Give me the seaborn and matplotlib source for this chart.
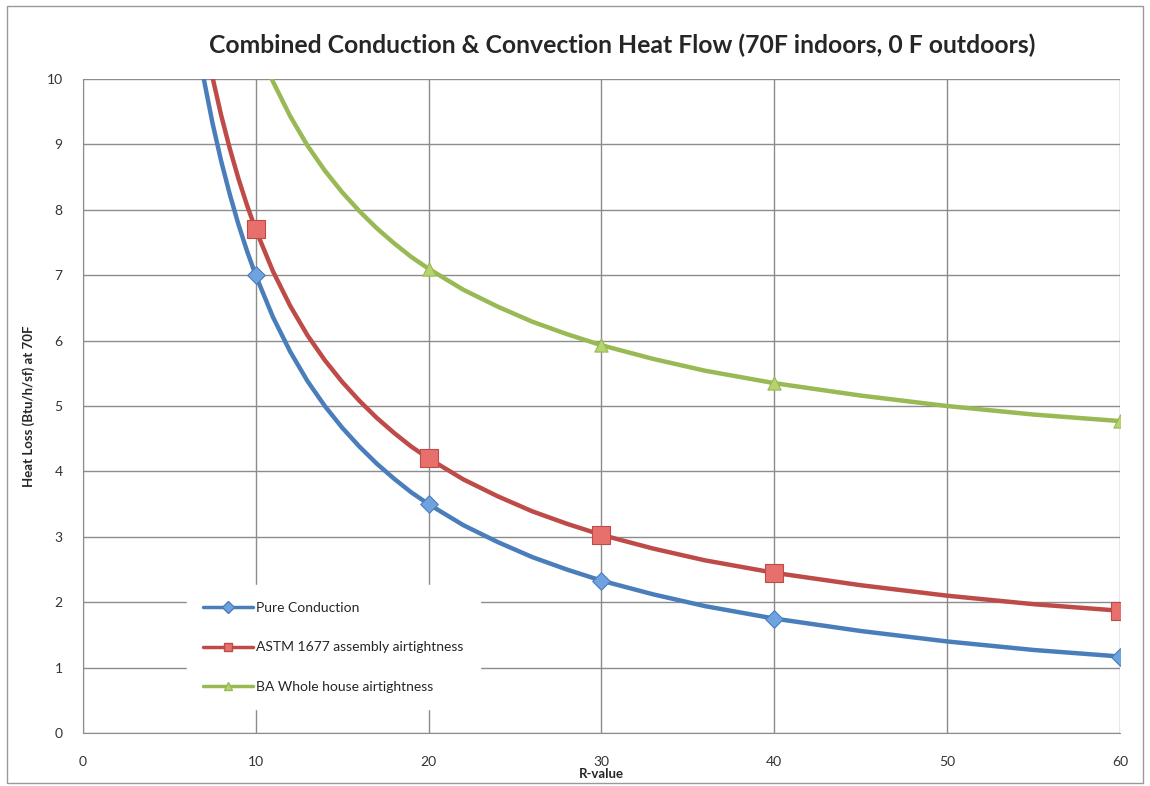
import matplotlib.pyplot as plt
import pandas as pd
import seaborn as sns
from matplotlib.lines import Line2D
from matplotlib.patches import Rectangle
from matplotlib.ticker import MultipleLocator

# Valores (curvas suavizadas)
R_CURVA = [5, 5.5, 6, 6.5, 7, 7.5, 8, 8.5, 9, 9.5, 10, 11, 12, 13, 14, 15, 16, 17, 18, 19,
           20, 22, 24, 26, 28, 30, 33, 36, 40, 45, 50, 55, 60]
CONDUCAO = [14.0, 12.73, 11.67, 10.77, 10.0, 9.33, 8.75, 8.24, 7.78, 7.37, 7.0, 6.36, 5.83,
            5.38, 5.0, 4.67, 4.38, 4.12, 3.89, 3.68, 3.5, 3.18, 2.92, 2.69, 2.5, 2.33, 2.12,
            1.94, 1.75, 1.56, 1.4, 1.27, 1.17]
ASTM = [14.7, 13.43, 12.37, 11.47, 10.7, 10.03, 9.45, 8.94, 8.48, 8.07, 7.7, 7.06, 6.53,
        6.08, 5.7, 5.37, 5.08, 4.82, 4.59, 4.38, 4.2, 3.88, 3.62, 3.39, 3.2, 3.03, 2.82,
        2.64, 2.45, 2.26, 2.1, 1.97, 1.87]
BA = [17.6, 16.33, 15.27, 14.37, 13.6, 12.93, 12.35, 11.84, 11.38, 10.97, 10.6, 9.96, 9.43,
      8.98, 8.6, 8.27, 7.98, 7.72, 7.49, 7.28, 7.1, 6.78, 6.52, 6.29, 6.1, 5.93, 5.72,
      5.54, 5.35, 5.16, 5.0, 4.87, 4.77]

# Pontos com marcador
R_MARCA = [10, 20, 30, 40, 60]
CONDUCAO_MARCA = [7.0, 3.5, 2.33, 1.75, 1.17]
ASTM_MARCA = [7.7, 4.2, 3.03, 2.45, 1.87]
BA_MARCA = [10.6, 7.1, 5.93, 5.35, 4.77]

SERIES = ["Pure Conduction", "ASTM 1677 assembly airtightness", "BA Whole house airtightness"]
CORES = ["#4a7ebb", "#be4b48", "#98b954"]
CORES_MARCA = ["#6fa3e0", "#e8706c", "#b5d46e"]
MARCADORES = ["D", "s", "^"]
TAMANHOS = [80, 150, 90]

sns.set_style("white")
plt.rcParams["font.family"] = ["Lato", "DejaVu Sans"]

curvas = pd.concat([
    pd.DataFrame({"R": R_CURVA, "q": v, "serie": s})
    for s, v in zip(SERIES, [CONDUCAO, ASTM, BA])
])
marcas = pd.concat([
    pd.DataFrame({"R": R_MARCA, "q": v, "serie": s})
    for s, v in zip(SERIES, [CONDUCAO_MARCA, ASTM_MARCA, BA_MARCA])
])

fig = plt.figure(figsize=(11.5, 7.86), dpi=100)
ax = fig.add_axes([0.072, 0.0674, 0.902, 0.832])

paleta = dict(zip(SERIES, CORES))
sns.lineplot(data=curvas, x="R", y="q", hue="serie", palette=paleta, linewidth=3.2,
             legend=False, ax=ax)
for s, m, c, tam in zip(SERIES, MARCADORES, CORES_MARCA, TAMANHOS):
    sub = marcas[marcas["serie"] == s]
    sns.scatterplot(data=sub, x="R", y="q", marker=m, color=c, s=tam,
                    edgecolor=paleta[s], linewidth=0.8, ax=ax, zorder=4, legend=False)

ax.set_xlim(0, 60)
ax.set_ylim(0, 10)
ax.xaxis.set_major_locator(MultipleLocator(10))
ax.xaxis.set_minor_locator(MultipleLocator(2))
ax.yaxis.set_major_locator(MultipleLocator(1))
ax.yaxis.set_minor_locator(MultipleLocator(0.2))
ax.grid(True, which="major", color="#8c8c8c", linewidth=1.0)
for lado in ["top", "right"]:
    ax.spines[lado].set_visible(False)
for lado in ["left", "bottom"]:
    ax.spines[lado].set_color("#8c8c8c")
ax.tick_params(axis="both", which="major", length=5, direction="inout", color="#8c8c8c",
               labelsize=10, labelcolor="#333333")
ax.tick_params(axis="x", which="major", pad=14)
ax.tick_params(axis="y", which="major", pad=12)
ax.tick_params(axis="both", which="minor", length=3, direction="in", color="#bbbbbb")

ax.set_xlabel("R-value", fontsize=9.5, fontweight="bold", labelpad=0)
ax.set_ylabel("Heat Loss (Btu/h/sf) at 70F", fontsize=9.5, fontweight="bold", labelpad=8)
fig.text(0.541, 0.942, "Combined Conduction & Convection Heat Flow (70F indoors, 0 F outdoors)",
         ha="center", va="center", fontsize=17.8, fontweight="bold")

handles = [Line2D([], [], color=c, marker=m, markerfacecolor=mc, markersize=6, linewidth=2.5)
           for c, mc, m in zip(CORES, CORES_MARCA, MARCADORES)]
leg = ax.legend(handles, SERIES, loc="lower left", bbox_to_anchor=(0.1, 0.036),
                frameon=True, fontsize=10, labelspacing=1.97, handlelength=3.6,
                handletextpad=0.2, borderpad=1.2, borderaxespad=0)
leg.get_frame().set_facecolor("white")
leg.get_frame().set_edgecolor("white")
leg.get_frame().set_alpha(1)

fig.patches.append(Rectangle((0.006, 0.004), 0.988, 0.988, transform=fig.transFigure,
                             fill=False, edgecolor="#999999", linewidth=1))

fig.savefig("out.png", dpi=100)
